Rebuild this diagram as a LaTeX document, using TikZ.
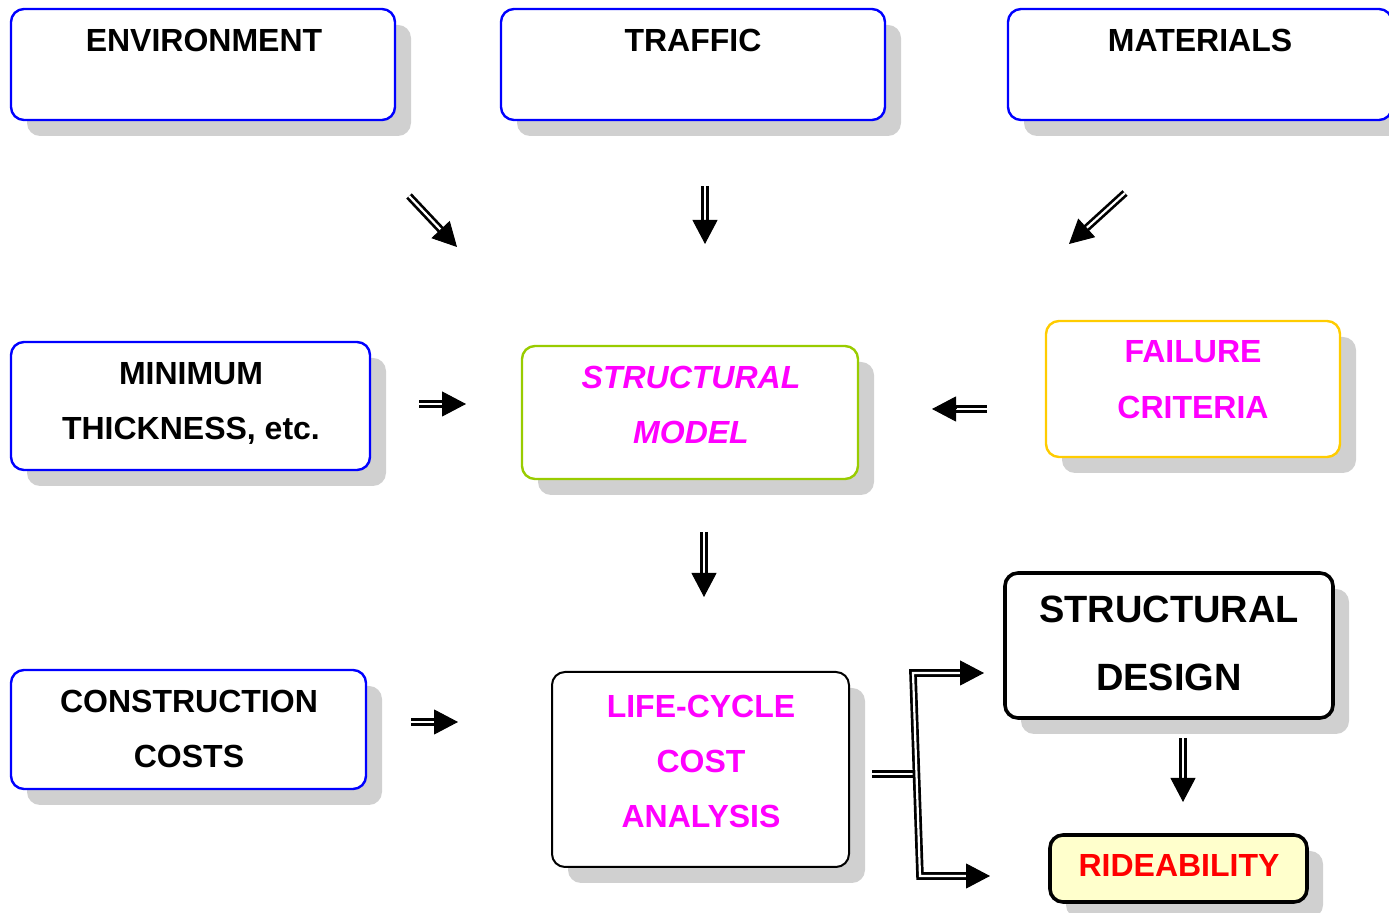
\documentclass[tikz,border=0pt]{standalone}
\usepackage{fontspec}
\setmainfont{Liberation Sans}
\usetikzlibrary{calc,shadows,arrows.meta}
\definecolor{bblue}{HTML}{0000FF}
\definecolor{bgreen}{HTML}{99CC00}
\definecolor{bgold}{HTML}{FFCC00}
\definecolor{tmag}{HTML}{FF00FF}
\definecolor{tred}{HTML}{FF0000}
\definecolor{fyel}{HTML}{FFFFCC}
\definecolor{shgray}{HTML}{D0D0D0}
\tikzset{
  box/.style={draw=bblue, line width=1.2pt, rounded corners=6.5pt, fill=white,
    inner sep=0pt, drop shadow={shadow xshift=8pt, shadow yshift=-8pt, fill=shgray, opacity=1}},
  txt/.style={inner sep=0pt, align=center, font=\bfseries\fontsize{16pt}{27.5pt}\selectfont},
  arrshaft/.style={draw=black, double=white, double distance=1.1pt, line width=1.35pt},
  arrtip/.style={draw=black, fill=black, -{Triangle[length=12pt,width=12.5pt]}, line width=0.5pt}
}
\newcommand\dblarr[2]{%
  \draw[arrshaft] (#1) -- ($(#2)!10pt!(#1)$);
  \draw[arrtip] ($(#2)!12pt!(#1)$) -- (#2);}
\begin{document}
\begin{tikzpicture}[x=0.5pt, y=-0.5pt]
\useasboundingbox (0,0) rectangle (1389,913);
% top row
\node[box, minimum width=192pt, minimum height=55.5pt] (env) at (203,64.5) {};
\node[txt] (envt) at (204,40) {ENVIRONMENT};
\node[box, minimum width=192pt, minimum height=55.5pt] (traf) at (693,64.5) {};
\node[txt] (traft) at (693,40) {TRAFFIC};
\node[box, minimum width=192pt, minimum height=55.5pt] (mat) at (1200,64.5) {};
\node[txt] (matt) at (1200,40) {MATERIALS};
% middle row
\node[box, minimum width=179.5pt, minimum height=64pt] (minth) at (190.5,406) {};
\node[txt] (mintht) at (191,403) {MINIMUM\\THICKNESS, etc.};
\node[box, draw=bgreen, minimum width=168pt, minimum height=66.5pt] (model) at (690,412.5) {};
\node[txt, text=tmag, font=\bfseries\itshape\fontsize{16pt}{27.5pt}\selectfont] (modelt) at (691,404.5) {STRUCTURAL\\MODEL};
\node[box, draw=bgold, minimum width=147pt, minimum height=68pt] (fail) at (1193,389) {};
\node[txt, text=tmag, font=\bfseries\fontsize{16pt}{28pt}\selectfont] (failt) at (1193,380) {FAILURE\\CRITERIA};
% bottom row
\node[box, minimum width=177.5pt, minimum height=59.5pt] (cons) at (188.5,729.5) {};
\node[txt] (const) at (189,728.5) {CONSTRUCTION\\COSTS};
\node[box, draw=black, line width=1pt, minimum width=148.5pt, minimum height=97.5pt] (lcc) at (700.5,769.5) {};
\node[txt, text=tmag] (lcct) at (701,761) {LIFE-CYCLE\\COST\\ANALYSIS};
\node[box, draw=black, line width=1.8pt, minimum width=164pt, minimum height=72.5pt] (des) at (1169,645.5) {};
\node[txt, font=\bfseries\fontsize{19pt}{34pt}\selectfont] (dest) at (1169,643) {STRUCTURAL\\DESIGN};
\node[box, draw=black, fill=fyel, line width=1.8pt, minimum width=128.5pt, minimum height=33.5pt] (ride) at (1178.5,868.5) {};
\node[txt, text=tred] (ridet) at (1179,865) {RIDEABILITY};
% arrow coordinates
\coordinate (a1s) at (409,196); \coordinate (a1e) at (457,247);
\coordinate (a2s) at (705,186); \coordinate (a2e) at (705,244);
\coordinate (a3s) at (1125,193); \coordinate (a3e) at (1069,244);
\coordinate (a4s) at (419,404); \coordinate (a4e) at (466,404);
\coordinate (a5s) at (987,409); \coordinate (a5e) at (932,409);
\coordinate (a6s) at (704,532); \coordinate (a6e) at (704,597);
\coordinate (a7s) at (411,722); \coordinate (a7e) at (458,722);
\coordinate (a8s) at (1183,738); \coordinate (a8e) at (1183,802);
\dblarr{a1s}{a1e}
\dblarr{a2s}{a2e}
\dblarr{a3s}{a3e}
\dblarr{a4s}{a4e}
\dblarr{a5s}{a5e}
\dblarr{a6s}{a6e}
\dblarr{a7s}{a7e}
\dblarr{a8s}{a8e}
% bracket
\coordinate (bs) at (872,774); \coordinate (bm) at (915,774);
\coordinate (bt) at (913,673); \coordinate (bb) at (920,876);
\coordinate (tt) at (984,673); \coordinate (tb) at (990,876);
\draw[arrshaft] (bs) -- (bm);
\draw[arrshaft] ($(tt)!10pt!(bt)$) -- (bt) -- (bb) -- ($(tb)!10pt!(bb)$);
\draw[arrtip] ($(tt)!12pt!(bt)$) -- (tt);
\draw[arrtip] ($(tb)!12pt!(bb)$) -- (tb);
\end{tikzpicture}
\end{document}
